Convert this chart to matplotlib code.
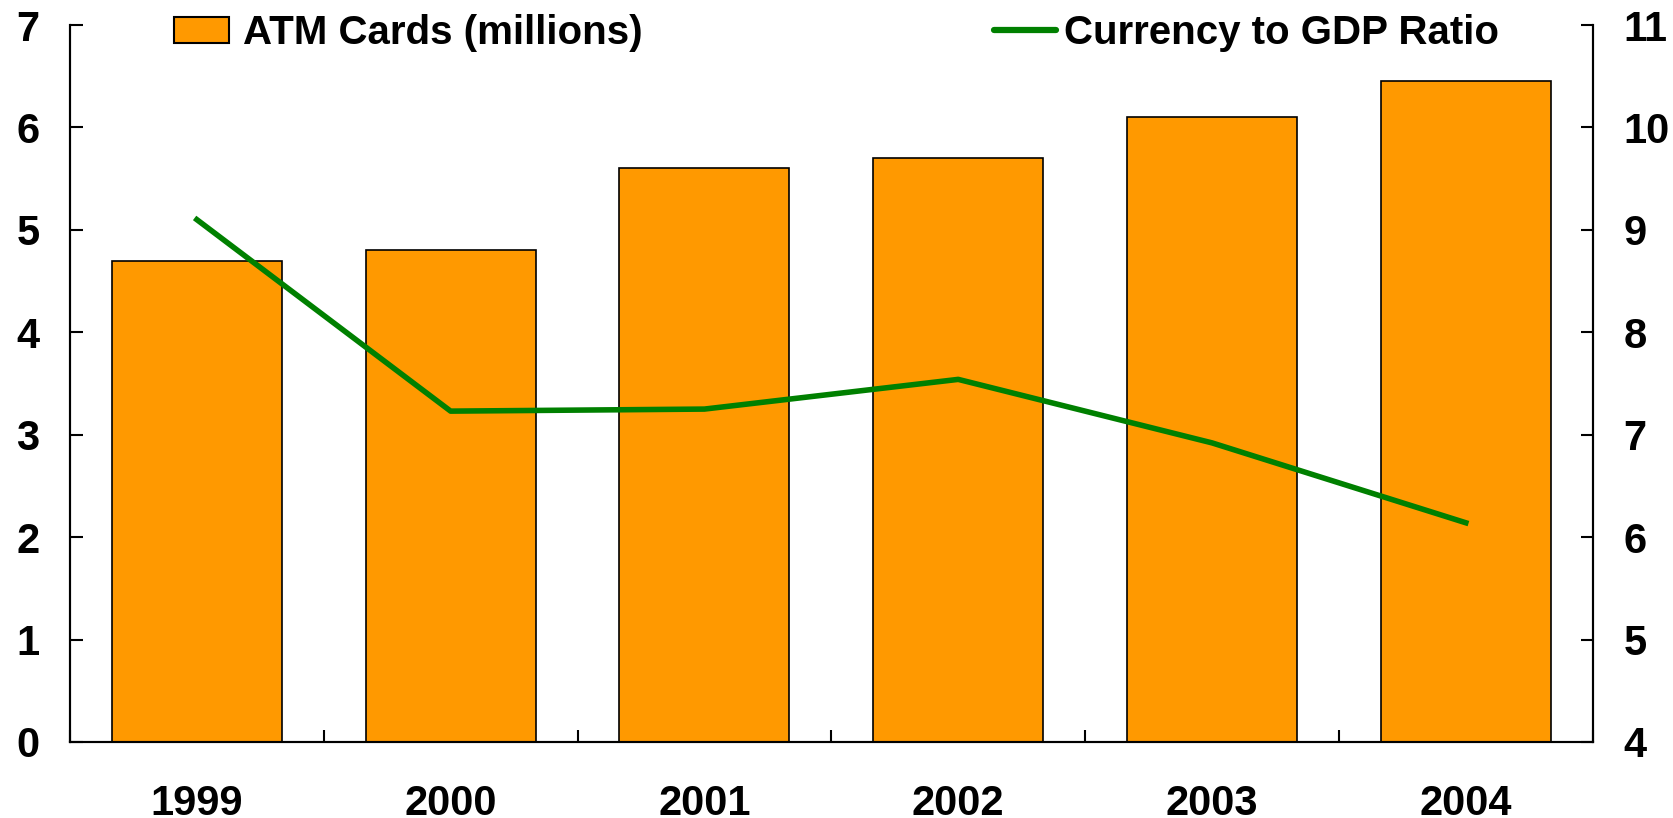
import numpy as np
import matplotlib.pyplot as plt
from matplotlib.patches import Patch
from matplotlib.lines import Line2D

plt.rcParams['font.family'] = ['Liberation Sans', 'DejaVu Sans']
plt.rcParams['font.weight'] = 'bold'

# dane
years = ['1999', '2000', '2001', '2002', '2003', '2004']
atm_cards = [4.7, 4.8, 5.6, 5.7, 6.1, 6.45]
currency_gdp = [9.1, 7.23, 7.25, 7.54, 6.92, 6.14]

fig = plt.figure(figsize=(16.73, 8.18), dpi=100)
ax = fig.add_axes([0.0418, 0.093, 0.9102, 0.8764])
ax2 = ax.twinx()

x = np.arange(len(years))
ax.bar(x, atm_cards, width=0.67, color='#FF9900', edgecolor='black', linewidth=1.2, zorder=2)
ax2.plot(x, currency_gdp, color='#008000', linewidth=4, zorder=3)

ax.set_xlim(-0.5, len(years) - 0.5)
ax.set_ylim(0, 7)
ax2.set_ylim(4, 11)
ax.set_yticks(range(0, 8))
ax2.set_yticks(range(4, 12))

ax.set_xticks(x)
ax.set_xticklabels(years)
ax.set_xticks(np.arange(-0.5, len(years)), minor=True)
ax.tick_params(axis='x', which='major', length=0, pad=30, labelsize=30)
ax.tick_params(axis='x', which='minor', direction='in', length=9, width=1.5)
ax.tick_params(axis='y', direction='in', length=9, width=1.5, pad=22, labelsize=30)
ax2.tick_params(axis='y', direction='in', length=9, width=1.5, pad=22, labelsize=30)

for a in (ax, ax2):
    a.spines['top'].set_visible(False)
    for s in ('left', 'right', 'bottom'):
        a.spines[s].set_linewidth(1.5)

# legendy
ax.legend([Patch(facecolor='#FF9900', edgecolor='black', linewidth=1.5)],
          ['ATM Cards (millions)'], loc='center left',
          bbox_to_anchor=(174 / 1673, 1 - 33 / 818), bbox_transform=fig.transFigure,
          frameon=False, fontsize=29, borderpad=0, borderaxespad=0,
          handlelength=1.37, handleheight=0.62, handletextpad=0.35)
ax2.legend([Line2D([], [], color='#008000', linewidth=4.5, solid_capstyle='round')],
           ['Currency to GDP Ratio'], loc='center left',
           bbox_to_anchor=(994 / 1673, 1 - 33 / 818), bbox_transform=fig.transFigure,
           frameon=False, fontsize=29, borderpad=0, borderaxespad=0,
           handlelength=1.55, handletextpad=0.2)

fig.savefig('out.png', dpi=100)
